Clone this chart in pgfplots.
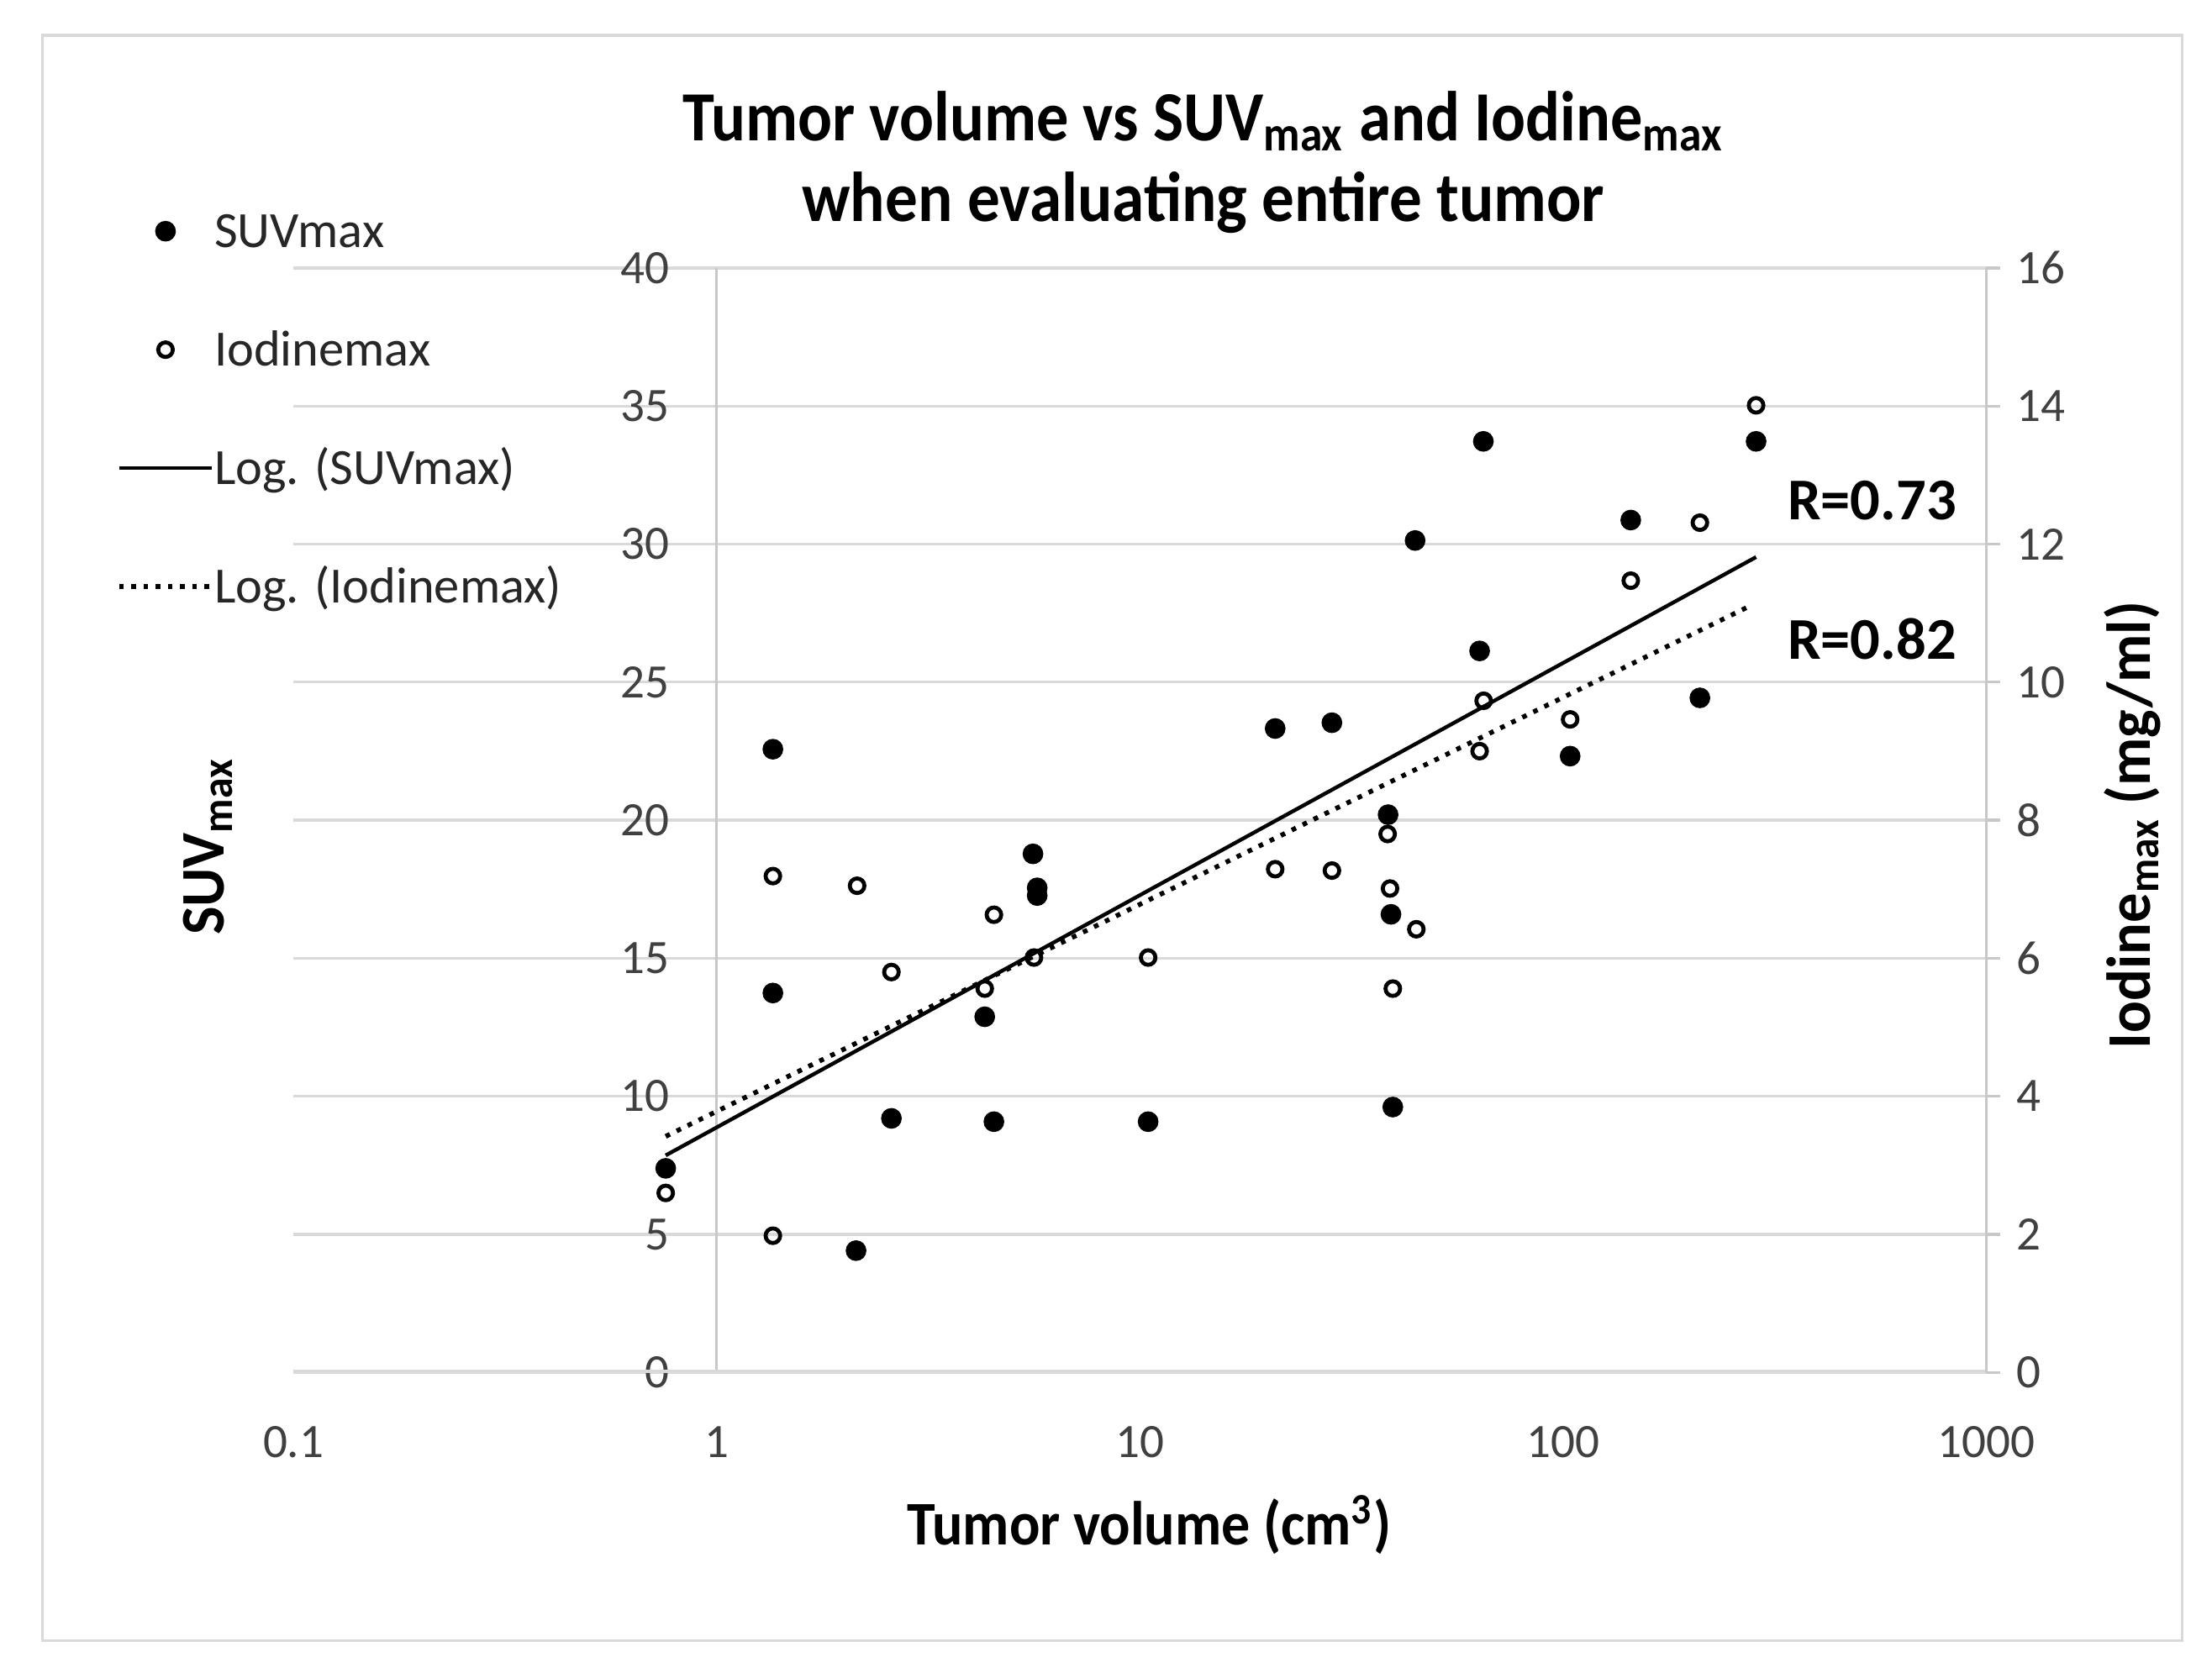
\documentclass[border=0pt]{standalone}
\usepackage{pgfplots}
\pgfplotsset{compat=1.18}
\usepackage{fontspec}
\setmainfont{Carlito}
\definecolor{gridc}{RGB}{217,217,217}
\definecolor{axc}{RGB}{200,200,200}
\definecolor{tickc}{RGB}{64,64,64}
\definecolor{framec}{RGB}{217,217,217}

\pgfplotstableread{
x y
0.758 7.39
1.358 22.57
1.358 13.74
2.135 4.41
2.588 9.20
4.30 12.88
4.52 9.08
5.59 18.78
5.72 17.55
5.72 17.27
10.46 9.08
20.88 23.32
28.43 23.53
38.6 20.20
39.2 16.59
39.6 9.61
44.7 30.13
64.8 33.72
63.5 26.13
103.9 22.32
144.5 30.87
210.5 24.43
285.8 33.72
}\suvdata

\pgfplotstableread{
x y
0.758 2.60
1.358 7.19
1.358 1.98
2.147 7.05
2.588 5.80
4.30 5.56
4.52 6.63
5.62 6.01
10.46 6.01
20.88 7.29
28.43 7.27
38.5 7.80
39.0 7.01
39.6 5.56
45.0 6.42
64.9 9.73
63.5 9.00
103.9 9.46
144.5 11.47
210.5 12.31
285.8 14.01
}\iodata

\pgfplotsset{
  markleg/.style={legend image code/.code={\path (0pt,0pt) (19.8pt,0pt); \draw[##1] plot coordinates {(9.9pt,0pt)};}},
  lineleg/.style={legend image code/.code={\draw[##1] (0pt,0pt) -- (19.8pt,0pt);}},
  suvmark/.style={only marks, mark=*, mark size=2pt, mark options={fill=black, draw=black}},
  iomark/.style={only marks, mark=o, mark size=1.55pt, mark options={fill=white, draw=black, line width=0.85pt}},
  suvline/.style={black, line width=0.8pt, no marks},
  ioline/.style={black, line width=1pt, no marks, dash pattern=on 1pt off 1.6pt},
}

\begin{document}
\begin{tikzpicture}[x=1pt,y=1pt]
\path[use as bounding box] (-62.4,-63.9) rectangle (408,291.9);
\fill[white] (-62.4,-63.9) rectangle (408,291.9);
\draw[framec, line width=0.6pt] (-53.4,-57) rectangle (401.7,284.4);

\begin{axis}[
  at={(0,0)}, anchor=south west,
  scale only axis, width=360pt, height=234.9pt,
  xmode=log, xmin=0.1, xmax=1000, ymin=0, ymax=40,
  xtick={0.1,1,10,100,1000}, xticklabels={0.1,1,10,100,1000},
  minor xtick={}, 
  ytick={0,5,...,40},
  ymajorgrids, grid style={gridc, line width=0.6pt},
  axis line style={draw=none}, tick style={draw=none},
  ticklabel style={font=\fontsize{10.2}{12}\selectfont, text=tickc},
  yticklabel style={xshift=83.5pt},
  xticklabel style={yshift=-8pt},
  /pgf/number format/assume math mode=true,
  legend style={draw=none, fill=none, at={(-0.105,1.0533)}, anchor=north west,
    inner sep=0pt, row sep=16.2pt,
    nodes={inner sep=0pt, text height=8pt, text depth=1pt, font=\fontsize{10.8}{13}\selectfont, text=black!85},
    /tikz/every even column/.append style={column sep=1.5pt}},
  legend cell align=left,
]
\draw[axc, line width=0.5pt] (axis cs:1,0) -- (axis cs:1,40);
\draw[gridc, line width=1.2pt] (axis cs:0.1,0) -- (axis cs:1000,0);
\addplot[suvmark, markleg] table[x=x,y=y] {\suvdata};
\addlegendentry{SUVmax}
\addlegendimage{iomark, markleg}
\addlegendentry{Iodinemax}
\addplot[suvline, lineleg] coordinates {(0.758,7.86) (285.8,29.53)};
\addlegendentry{Log. (SUVmax)}
\addlegendimage{ioline, lineleg}
\addlegendentry{Log. (Iodinemax)}
\end{axis}

\begin{axis}[
  at={(0,0)}, anchor=south west,
  scale only axis, width=360pt, height=234.9pt,
  xmode=log, xmin=0.1, xmax=1000, ymin=0, ymax=16,
  axis x line=none,
  axis y line*=right,
  y axis line style={axc, line width=0.6pt},
  ytick={0,2,...,16},
  tick align=outside, major tick length=3pt,
  ytick style={axc, line width=0.6pt},
  yticklabel style={font=\fontsize{10.2}{12}\selectfont, text=tickc},
  /pgf/number format/assume math mode=true,
]
\addplot[iomark] table[x=x,y=y] {\iodata};
\addplot[ioline] coordinates {(0.758,3.42) (280,11.12)};
\end{axis}

\node[anchor=base, xscale=0.91, font=\bfseries\fontsize{15}{18}\selectfont] at (193.5,261.9) {Tumor volume vs SUV\textsubscript{max} and Iodine\textsubscript{max}};
\node[anchor=base, xscale=0.92, font=\bfseries\fontsize{15}{18}\selectfont] at (193.5,244.8) {when evaluating entire tumor};
\node[anchor=base, xscale=0.92, font=\bfseries\fontsize{13.2}{16}\selectfont] at (182,-36.6) {Tumor volume (cm\textsuperscript{3})};
\node[anchor=base, rotate=90, xscale=0.96, font=\bfseries\fontsize{13.2}{16}\selectfont] at (-14.7,111.9) {SUV\textsubscript{max}};
\node[anchor=base, rotate=90, xscale=0.955, font=\bfseries\fontsize{13.2}{16}\selectfont] at (394.8,116.4) {Iodine\textsubscript{max} (mg/ml)};
\node[font=\bfseries\fontsize{12.6}{15}\selectfont] at (335.7,185.4) {R=0.73};
\node[font=\bfseries\fontsize{12.6}{15}\selectfont] at (335.7,156) {R=0.82};
\end{tikzpicture}
\end{document}
